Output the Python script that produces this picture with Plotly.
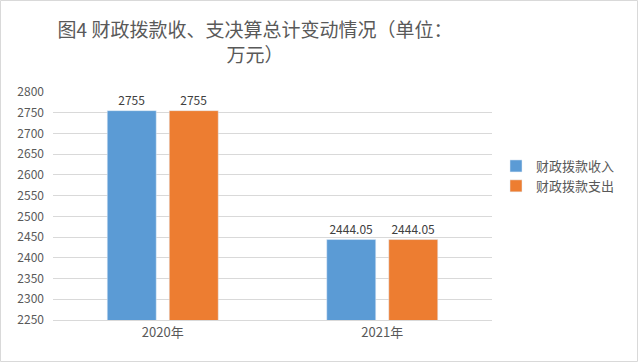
import plotly.graph_objects as go

categories = ["2020年", "2021年"]
income = [2755, 2444.05]
expense = [2755, 2444.05]
series_names = ["财政拨款收入", "财政拨款支出"]

W, H = 638, 362
L, R, T, B = 53, 146, 92, 42
pw, ph = W - L - R, H - T - B

font = "Noto Sans CJK SC, Microsoft YaHei, sans-serif"

fig = go.Figure()
for name, vals, col in [(series_names[0], income, "#5B9BD5"), (series_names[1], expense, "#ED7D31")]:
    fig.add_trace(go.Bar(
        x=categories, y=vals, name=name, marker_color=col,
        text=[f"{v:g}" for v in vals], textposition="outside",
        textfont=dict(size=12, color="#404040", family=font),
        cliponaxis=False,
    ))

def px(x):
    return (x - L) / pw

def py(y):
    return (H - B - y) / ph

fig.add_shape(type="rect", xref="paper", yref="paper",
              x0=px(0.5), x1=px(W - 0.5), y0=py(H - 0.5), y1=py(0.5),
              line=dict(color="#d9d9d9", width=1), fillcolor="rgba(0,0,0,0)", layer="above")

fig.update_layout(
    width=W, height=H,
    margin=dict(l=L, r=R, t=T, b=B),
    paper_bgcolor="white", plot_bgcolor="white",
    barmode="group", bargap=0.435, bargroupgap=0.21,
    title=dict(text="图4 财政拨款收、支决算总计变动情况（单位：<br>万元）",
               x=255 / W, xanchor="center", xref="container",
               y=1 - 37 / H, yanchor="middle",
               font=dict(size=19, color="#595959", family=font)),
    font=dict(family=font, color="#595959"),
    legend=dict(x=px(496), y=py(151), xanchor="left", yanchor="top",
                font=dict(size=13, color="#595959"), tracegroupgap=0,
                itemwidth=30),
    showlegend=True,
)
fig.update_yaxes(range=[2250, 2800], dtick=50, showgrid=True, gridcolor="#d9d9d9",
                 zeroline=False, showline=False, tickfont=dict(size=12, color="#595959"),
                 ticks="", ticklabelstandoff=8)
fig.update_xaxes(showline=True, linecolor="#d9d9d9", tickfont=dict(size=13, color="#595959"),
                 ticks="")

fig.write_html("out.html", config={"displayModeBar": False},
               post_script="document.body.style.margin='0';document.body.style.padding='0';")
